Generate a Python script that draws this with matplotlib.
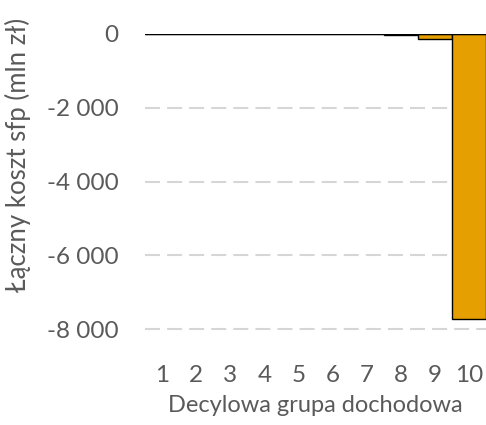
import matplotlib.pyplot as plt
from matplotlib.ticker import FuncFormatter

plt.rcParams['font.family'] = ['Lato', 'DejaVu Sans']

decyle = [1, 2, 3, 4, 5, 6, 7, 8, 9, 10]
koszt = [0, 0, 0, 0, 0, 0, 0, -15, -135, -7720]
yticks = [0, -2000, -4000, -6000, -8000]
tekst = '#5a5a5a'

fig = plt.figure(figsize=(4.86, 4.25), dpi=100)
ax = fig.add_axes([145 / 486, 1 - 352 / 425, 341 / 486, (352 - 34) / 425])

ax.bar(decyle, koszt, width=1.0, color='#E69F00', edgecolor='black',
       linewidth=1.0, zorder=3)
ax.axhline(0, color='black', linewidth=1.6, zorder=4)

for v in yticks[1:]:
    ax.axhline(v, color='#d6d6d6', linewidth=1.5, dashes=(7.2, 3.4), zorder=1)

ax.set_xlim(0.5, 10.5)
ax.set_ylim(-8620, 0)
ax.set_xticks(decyle)
ax.set_yticks(yticks)
ax.yaxis.set_major_formatter(FuncFormatter(
    lambda v, p: '0' if v == 0 else f'{v:,.0f}'.replace(',', ' ')))

for s in ax.spines.values():
    s.set_visible(False)
ax.tick_params(axis='both', length=0, labelsize=17.5, labelcolor=tekst)
ax.tick_params(axis='y', pad=19)
ax.tick_params(axis='x', pad=9)

ax.set_ylabel('Łączny koszt sfp (mln zł)', fontsize=18.5, color=tekst)
ax.set_xlabel('Decylowa grupa dochodowa', fontsize=17, color=tekst,
              labelpad=7)
ax.yaxis.set_label_coords(-0.334, 0.62)

fig.savefig('out.png', dpi=100)
